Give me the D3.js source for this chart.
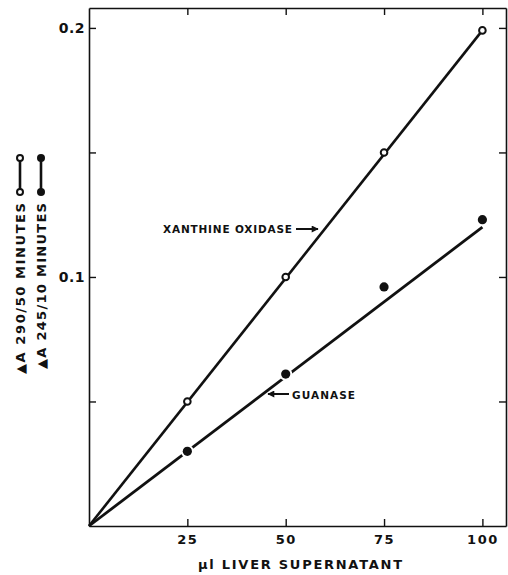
<!DOCTYPE html>
<html>
<head>
<meta charset="utf-8">
<script src="https://cdn.jsdelivr.net/npm/d3@7"></script>
<style>
  body { margin: 0; background: #fff; }
  svg { display: block; }
  text { font-family: "DejaVu Sans", sans-serif; font-weight: bold; fill: #111; }
</style>
</head>
<body>
<script>
// data
var doses = [25, 50, 75, 100];
var xanthine = [0.050, 0.100, 0.150, 0.199];   // open circles, A290/50 min
var guanase = [0.030, 0.061, 0.096, 0.123];    // filled circles, A245/10 min
var fitX = [0, 100];
var xanthineFit = [0, 0.199];
var guanaseFit = [0, 0.120];
var xTicks = [25, 50, 75, 100];
var yTicks = [0.05, 0.1, 0.15, 0.2];
var yTickLabels = ["", "0.1", "", "0.2"];

var width = 508, height = 575;
var margin = {top: 8, right: 2, bottom: 49, left: 89};

var svg = d3.select("body").append("svg")
    .attr("width", width)
    .attr("height", height);

var x = d3.scaleLinear().domain([0, 106]).range([margin.left, width - margin.right]);
var y = d3.scaleLinear().domain([0, 0.208]).range([height - margin.bottom, margin.top]);

var ink = "#111";

//axes, ticks all point inward
var bottom = svg.append("g")
    .attr("transform", "translate(0," + y(0) + ")")
    .call(d3.axisBottom(x).tickValues(xTicks).tickSizeInner(-7).tickSizeOuter(0).tickPadding(9)
        .tickFormat(function(d) { return d; }));
var top = svg.append("g")
    .attr("transform", "translate(0," + y.range()[1] + ")")
    .call(d3.axisTop(x).tickValues(xTicks).tickSizeInner(-7).tickSizeOuter(0).tickFormat(""));
var left = svg.append("g")
    .attr("transform", "translate(" + x(0) + ",0)")
    .call(d3.axisLeft(y).tickValues(yTicks).tickSizeInner(-7).tickSizeOuter(0).tickPadding(4)
        .tickFormat(function(d, i) { return yTickLabels[i]; }));
var right = svg.append("g")
    .attr("transform", "translate(" + x.range()[1] + ",0)")
    .call(d3.axisRight(y).tickValues(yTicks).tickSizeInner(-7).tickSizeOuter(0).tickFormat(""));

svg.selectAll(".domain").attr("stroke", ink).attr("stroke-width", 1.6);
svg.selectAll(".tick line").attr("stroke", ink).attr("stroke-width", 1.4);
bottom.selectAll(".tick text").attr("font-size", 13).attr("letter-spacing", 1.5)
    .attr("font-family", "DejaVu Sans").attr("font-weight", "bold").attr("fill", ink);
left.selectAll(".tick text").attr("font-size", 14).attr("letter-spacing", 0.5)
    .attr("font-family", "DejaVu Sans").attr("font-weight", "bold").attr("fill", ink);

//fitted lines through origin
var line = d3.line()
    .x(function(d) { return x(d[0]); })
    .y(function(d) { return y(d[1]); });

svg.append("path")
    .attr("d", line(d3.zip(fitX, xanthineFit)))
    .attr("fill", "none").attr("stroke", ink).attr("stroke-width", 2.6);
svg.append("path")
    .attr("d", line(d3.zip(fitX, guanaseFit)))
    .attr("fill", "none").attr("stroke", ink).attr("stroke-width", 2.8);

//points
svg.selectAll(".gua")
    .data(d3.zip(doses, guanase))
    .enter().append("circle")
    .attr("class", "gua")
    .attr("cx", function(d) { return x(d[0]); })
    .attr("cy", function(d) { return y(d[1]); })
    .attr("r", 6.5)
    .attr("fill", "#fff");
svg.selectAll(".gua2")
    .data(d3.zip(doses, guanase))
    .enter().append("circle")
    .attr("class", "gua2")
    .attr("cx", function(d) { return x(d[0]); })
    .attr("cy", function(d) { return y(d[1]); })
    .attr("r", 4.6)
    .attr("fill", ink);
svg.selectAll(".xan")
    .data(d3.zip(doses, xanthine))
    .enter().append("circle")
    .attr("class", "xan")
    .attr("cx", function(d) { return x(d[0]); })
    .attr("cy", function(d) { return y(d[1]); })
    .attr("r", 3.3)
    .attr("fill", "#fff")
    .attr("stroke", ink)
    .attr("stroke-width", 2);

//arrowheads
var defs = svg.append("defs");
defs.append("marker")
    .attr("id", "head")
    .attr("viewBox", "0 0 10 10")
    .attr("refX", 9).attr("refY", 5)
    .attr("markerWidth", 9).attr("markerHeight", 7)
    .attr("markerUnits", "userSpaceOnUse")
    .attr("orient", "auto")
  .append("path")
    .attr("d", "M0,0L10,5L0,10z")
    .attr("fill", ink);

//labels on the curves
svg.append("text")
    .attr("x", 163).attr("y", 233)
    .attr("font-size", 10.5)
    .attr("textLength", 129).attr("lengthAdjust", "spacing")
    .text("XANTHINE OXIDASE");
svg.append("line")
    .attr("x1", 296).attr("y1", 229).attr("x2", 318).attr("y2", 229)
    .attr("stroke", ink).attr("stroke-width", 2)
    .attr("marker-end", "url(#head)");

svg.append("text")
    .attr("x", 292).attr("y", 399)
    .attr("font-size", 10.5)
    .attr("textLength", 63).attr("lengthAdjust", "spacing")
    .text("GUANASE");
svg.append("line")
    .attr("x1", 289).attr("y1", 394).attr("x2", 268).attr("y2", 394)
    .attr("stroke", ink).attr("stroke-width", 2)
    .attr("marker-end", "url(#head)");

//x title
svg.append("text")
    .attr("x", 198).attr("y", 569)
    .attr("font-size", 13)
    .attr("textLength", 204).attr("lengthAdjust", "spacing")
    .text("\u00b5l LIVER SUPERNATANT");

//y title, two rotated lines with legend symbols
var ylab = [
    {text: "\u25b2A 290/50 MINUTES", cx: 20, start: 374, filled: false},
    {text: "\u25b2A 245/10 MINUTES", cx: 41, start: 369, filled: true}
];
ylab.forEach(function(d) {
    svg.append("text")
        .attr("transform", "translate(" + (d.cx + 5) + "," + d.start + ") rotate(-90)")
        .attr("font-size", 13)
        .attr("textLength", d.start - 203).attr("lengthAdjust", "spacing")
        .text(d.text);
    svg.append("line")
        .attr("x1", d.cx).attr("x2", d.cx).attr("y1", 160).attr("y2", 190)
        .attr("stroke", ink).attr("stroke-width", 2.6);
    [158, 192].forEach(function(cy) {
        svg.append("circle")
            .attr("cx", d.cx).attr("cy", cy)
            .attr("r", d.filled ? 4 : 3)
            .attr("fill", d.filled ? ink : "#fff")
            .attr("stroke", ink).attr("stroke-width", d.filled ? 0 : 2);
    });
});
</script>
</body>
</html>
